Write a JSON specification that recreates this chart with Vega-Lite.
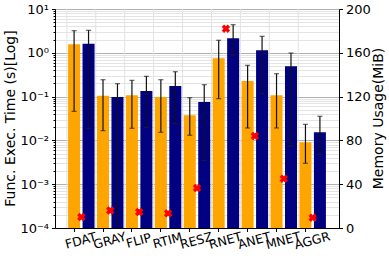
{
  "$schema": "https://vega.github.io/schema/vega-lite/v6.json",
  "width": 284,
  "height": 219,
  "autosize": "none",
  "padding": {"left": 55, "top": 9, "right": 50, "bottom": 34},
  "config": {
    "font": "DejaVu Sans",
    "view": {"stroke": "#333333", "strokeWidth": 1},
    "axis": {"labelFont": "DejaVu Sans", "titleFont": "DejaVu Sans", "labelFontSize": 13, "titleFontSize": 14, "titleFontWeight": "normal", "labelColor": "#000000", "titleColor": "#000000", "domainColor": "#000000", "tickColor": "#000000"},
    "axisX": {"bandPosition": 0.25, "labelAngle": -15, "labelAlign": "center", "labelBaseline": "top", "labelFontSize": 12.5, "tickSize": 3.5, "labelPadding": 3, "labelOffset": -2, "grid": false, "title": null}
  },
  "datasets": {
    "times": [
      {"task": "FDAT", "run": "a", "mean": 1.56, "lo": 0.046, "hi": 3.2},
      {"task": "FDAT", "run": "b", "mean": 1.61, "lo": 0.0189, "hi": 3.26},
      {"task": "GRAY", "run": "a", "mean": 0.105, "lo": 0.0167, "hi": 0.243},
      {"task": "GRAY", "run": "b", "mean": 0.098, "lo": 0.00003, "hi": 0.197},
      {"task": "FLIP", "run": "a", "mean": 0.107, "lo": 0.0189, "hi": 0.235},
      {"task": "FLIP", "run": "b", "mean": 0.134, "lo": 0.0199, "hi": 0.29},
      {"task": "RTIM", "run": "a", "mean": 0.098, "lo": 0.0153, "hi": 0.243},
      {"task": "RTIM", "run": "b", "mean": 0.175, "lo": 0.0241, "hi": 0.37},
      {"task": "RESZ", "run": "a", "mean": 0.0374, "lo": 0.0131, "hi": 0.0944},
      {"task": "RESZ", "run": "b", "mean": 0.0753, "lo": 0.0035, "hi": 0.187},
      {"task": "RNET", "run": "a", "mean": 0.748, "lo": 0.0897, "hi": 1.93},
      {"task": "RNET", "run": "b", "mean": 2.14, "lo": 0.891, "hi": 4.38},
      {"task": "ANET", "run": "a", "mean": 0.227, "lo": 0.0192, "hi": 0.518},
      {"task": "ANET", "run": "b", "mean": 1.14, "lo": 0.117, "hi": 2.38},
      {"task": "MNET", "run": "a", "mean": 0.107, "lo": 0.0192, "hi": 0.333},
      {"task": "MNET", "run": "b", "mean": 0.491, "lo": 0.00745, "hi": 0.989},
      {"task": "AGGR", "run": "a", "mean": 0.00903, "lo": 0.003, "hi": 0.0233},
      {"task": "AGGR", "run": "b", "mean": 0.0153, "lo": 0.0048, "hi": 0.0355}
    ],
    "memory": [
      {"task": "FDAT", "mem": 10},
      {"task": "GRAY", "mem": 16},
      {"task": "FLIP", "mem": 14.6},
      {"task": "RTIM", "mem": 13.4},
      {"task": "RESZ", "mem": 36.5},
      {"task": "RNET", "mem": 182},
      {"task": "ANET", "mem": 84},
      {"task": "MNET", "mem": 45},
      {"task": "AGGR", "mem": 9.4}
    ]
  },
  "layer": [
    {
      "data": {"name": "memory"},
      "mark": {"type": "rule", "color": "#e2e2e2", "strokeWidth": 1},
      "encoding": {
        "x": {"field": "task", "type": "nominal", "sort": null, "bandPosition": 0, "title": null, "scale": {"paddingInner": 0, "paddingOuter": 0.41}}
      }
    },
    {
      "layer": [
        {
          "data": {"name": "times"},
          "mark": {"type": "bar", "clip": true},
          "encoding": {
            "x": {"field": "task", "type": "nominal", "sort": null, "title": null, "scale": {"paddingInner": 0, "paddingOuter": 0.41}},
            "xOffset": {"field": "run", "type": "nominal", "scale": {"paddingInner": 0.17, "paddingOuter": 0.085}},
            "y": {"field": "mean", "type": "quantitative",
              "title": "Func. Exec. Time (s)[Log]",
              "scale": {"type": "log", "domain": [0.0001, 10], "nice": false},
              "axis": {
                "values": [0.0001, 0.0002, 0.0003, 0.0004, 0.0005, 0.0006, 0.0007, 0.0008, 0.0009, 0.001, 0.002, 0.003, 0.004, 0.005, 0.006, 0.007, 0.008, 0.009, 0.01, 0.02, 0.03, 0.04, 0.05, 0.06, 0.07, 0.08, 0.09, 0.1, 0.2, 0.3, 0.4, 0.5, 0.6, 0.7, 0.8, 0.9, 1, 2, 3, 4, 5, 6, 7, 8, 9, 10],
                "labelExpr": "abs(log(datum.value)/LN10 - round(log(datum.value)/LN10)) > 0.001 ? '' : round(log(datum.value)/LN10) == 1 ? '10¹' : round(log(datum.value)/LN10) == 0 ? '10⁰' : round(log(datum.value)/LN10) == -1 ? '10⁻¹' : round(log(datum.value)/LN10) == -2 ? '10⁻²' : round(log(datum.value)/LN10) == -3 ? '10⁻³' : '10⁻⁴'",
                "labelOverlap": false,
                "labelFlush": false,
                "grid": true,
                "gridColor": {"condition": {"test": "abs(log(datum.value)/LN10 - round(log(datum.value)/LN10)) < 0.001", "value": "#b0b0b0"}, "value": "#e4e4e4"},
                "tickSize": {"condition": {"test": "abs(log(datum.value)/LN10 - round(log(datum.value)/LN10)) < 0.001", "value": 3.5}, "value": 2},
                "labelPadding": 3,
                "titleX": -45,
                "titleY": 109,
                "titleAngle": 270,
                "titleBaseline": "middle",
                "titleAlign": "center"
              }},
            "y2": {"datum": 0.0001},
            "color": {"field": "run", "type": "nominal", "scale": {"domain": ["a", "b"], "range": ["#FFA500", "#000080"]}, "legend": null}
          }
        },
        {
          "data": {"name": "times"},
          "mark": {"type": "rule", "color": "#111111", "strokeWidth": 1.2, "clip": true},
          "encoding": {
            "x": {"field": "task", "type": "nominal", "sort": null, "title": null, "scale": {"paddingInner": 0, "paddingOuter": 0.41}},
            "xOffset": {"field": "run", "type": "nominal", "scale": {"paddingInner": 0.17, "paddingOuter": 0.085}},
            "y": {"field": "lo", "type": "quantitative", "title": "Func. Exec. Time (s)[Log]"},
            "y2": {"field": "hi"}
          }
        },
        {
          "data": {"name": "times"},
          "mark": {"type": "tick", "color": "#222222", "size": 5, "thickness": 1.2, "clip": true},
          "encoding": {
            "x": {"field": "task", "type": "nominal", "sort": null, "title": null, "scale": {"paddingInner": 0, "paddingOuter": 0.41}},
            "xOffset": {"field": "run", "type": "nominal", "scale": {"paddingInner": 0.17, "paddingOuter": 0.085}},
            "y": {"field": "lo", "type": "quantitative", "title": "Func. Exec. Time (s)[Log]"}
          }
        },
        {
          "data": {"name": "times"},
          "mark": {"type": "tick", "color": "#222222", "size": 5, "thickness": 1.2, "clip": true},
          "encoding": {
            "x": {"field": "task", "type": "nominal", "sort": null, "title": null, "scale": {"paddingInner": 0, "paddingOuter": 0.41}},
            "xOffset": {"field": "run", "type": "nominal", "scale": {"paddingInner": 0.17, "paddingOuter": 0.085}},
            "y": {"field": "hi", "type": "quantitative", "title": "Func. Exec. Time (s)[Log]"}
          }
        }
      ]
    },
    {
      "data": {"name": "memory"},
      "mark": {"type": "point", "shape": "cross", "angle": 45, "filled": true, "color": "#ff0000", "size": 72, "opacity": 1},
      "encoding": {
        "x": {"field": "task", "type": "nominal", "sort": null, "title": null, "scale": {"paddingInner": 0, "paddingOuter": 0.41}},
        "y": {"field": "mem", "type": "quantitative", "title": "Memory Usage(MiB)",
          "scale": {"domain": [0, 200], "nice": false, "zero": true},
          "axis": {"orient": "right", "values": [0, 40, 80, 120, 160, 200], "grid": false, "tickSize": 3.5, "labelPadding": 3, "labelFlush": false, "titleX": 39, "titleY": 109, "titleAngle": 270, "titleBaseline": "middle", "titleAlign": "center"}}
      }
    }
  ],
  "resolve": {"scale": {"y": "independent"}}
}
